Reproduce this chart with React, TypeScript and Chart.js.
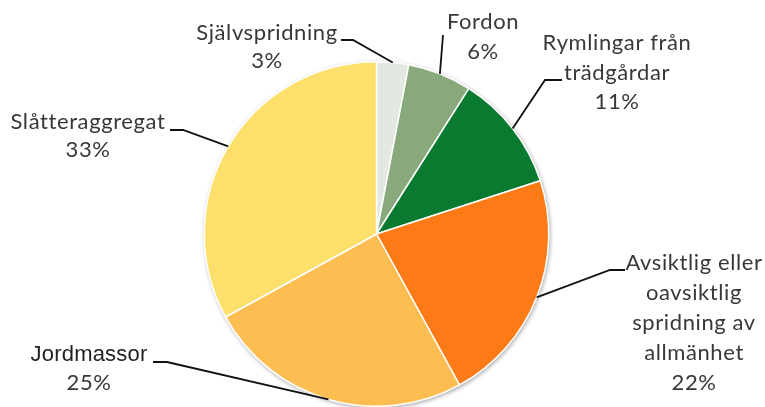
import React, { useEffect, useRef } from "react";
import { Chart, registerables } from "chart.js";

Chart.register(...registerables);

const categories = [
  "Självspridning",
  "Fordon",
  "Rymlingar från trädgårdar",
  "Avsiktlig eller oavsiktlig spridning av allmänhet",
  "Jordmassor",
  "Slåtteraggregat",
];
const values = [3, 6, 11, 22, 25, 33];
const colors = ["#e3e8e1", "#88a97c", "#0b7a31", "#fd7b16", "#fdbd51", "#fce06b"];

// label line wrapping (display only)
const labelLines = [
  ["Självspridning"],
  ["Fordon"],
  ["Rymlingar från", "trädgårdar"],
  ["Avsiktlig eller", "oavsiktlig", "spridning av", "allmänhet"],
  ["Jordmassor"],
  ["Slåtteraggregat"],
];

// label layout: text centre, first-line y, line height, elbow point and end point of leader
const labelLayout = [
  { cx: 267, y0: 33, lh: 28, elbow: [353, 40], end: [341, 40] },
  { cx: 483, y0: 22, lh: 30, elbow: [443, 35], end: [443, 35] },
  { cx: 617, y0: 43, lh: 29.5, elbow: [545, 80], end: [562, 80] },
  { cx: 694, y0: 263, lh: 30, elbow: [610, 270], end: [625, 270] },
  { cx: 89, y0: 355, lh: 28, elbow: [167, 362], end: [153, 362], special: true },
  { cx: 88, y0: 122, lh: 28, elbow: [183, 130], end: [170, 130] },
];

const FONT = "22px Lato";
const TEXT_COLOR = "#383838";

const shadowPlugin = {
  id: "pieShadow",
  beforeDatasetsDraw(chart: any) {
    const meta = chart.getDatasetMeta(0);
    const arc = meta.data[0];
    if (!arc) return;
    const { x, y, outerRadius } = arc.getProps(["x", "y", "outerRadius"], true);
    const ctx = chart.ctx;
    ctx.save();
    ctx.shadowColor = "rgba(0,0,0,0.35)";
    ctx.shadowBlur = 4;
    ctx.shadowOffsetX = 1;
    ctx.shadowOffsetY = 1.5;
    ctx.fillStyle = "#ffffff";
    ctx.beginPath();
    ctx.arc(x, y, outerRadius + 0.5, 0, Math.PI * 2);
    ctx.fill();
    ctx.restore();
  },
};

const labelPlugin = {
  id: "calloutLabels",
  afterDatasetsDraw(chart: any) {
    const ctx = chart.ctx;
    const meta = chart.getDatasetMeta(0);
    meta.data.forEach((el: any, i: number) => {
      const { x, y, outerRadius, startAngle, endAngle } = el.getProps(
        ["x", "y", "outerRadius", "startAngle", "endAngle"],
        true
      );
      const mid = (startAngle + endAngle) / 2;
      const px = x + Math.cos(mid) * outerRadius;
      const py = y + Math.sin(mid) * outerRadius;
      const L = labelLayout[i];
      ctx.save();
      ctx.strokeStyle = "#111111";
      ctx.lineWidth = 1.8;
      ctx.beginPath();
      ctx.moveTo(px, py);
      ctx.lineTo(L.elbow[0], L.elbow[1]);
      ctx.lineTo(L.end[0], L.end[1]);
      ctx.stroke();

      ctx.textAlign = "center";
      ctx.textBaseline = "middle";
      const lines = [...labelLines[i], `${values[i]}%`];
      lines.forEach((t, k) => {
        if (L.special && k === 0) {
          ctx.font = "500 22px 'Liberation Sans'";
          ctx.fillStyle = "#222222";
          (ctx as any).letterSpacing = "0.2px";
        } else {
          ctx.font = FONT;
          ctx.fillStyle = TEXT_COLOR;
          (ctx as any).letterSpacing = "0.6px";
        }
        ctx.fillText(t, L.cx, L.y0 + k * L.lh);
      });
      ctx.restore();
    });
  },
};

export default function App() {
  const ref = useRef<HTMLCanvasElement | null>(null);
  useEffect(() => {
    document.body.style.margin = "0";
    const canvas = ref.current;
    if (!canvas) return;
    const chart = new Chart(canvas, {
      type: "pie",
      data: {
        labels: categories,
        datasets: [
          {
            data: values,
            backgroundColor: colors,
            borderColor: "#ffffff",
            borderWidth: 1.5,
          },
        ],
      },
      options: {
        responsive: false,
        animation: false,
        layout: { padding: { top: 61, bottom: 0, left: 0, right: 12 } },
        plugins: {
          legend: { display: false },
          tooltip: { enabled: false },
        },
      },
      plugins: [shadowPlugin, labelPlugin],
    });
    return () => chart.destroy();
  }, []);
  return (
    <div style={{ width: 765, height: 407, background: "#ffffff" }}>
      <canvas ref={ref} width={765} height={407} />
    </div>
  );
}
